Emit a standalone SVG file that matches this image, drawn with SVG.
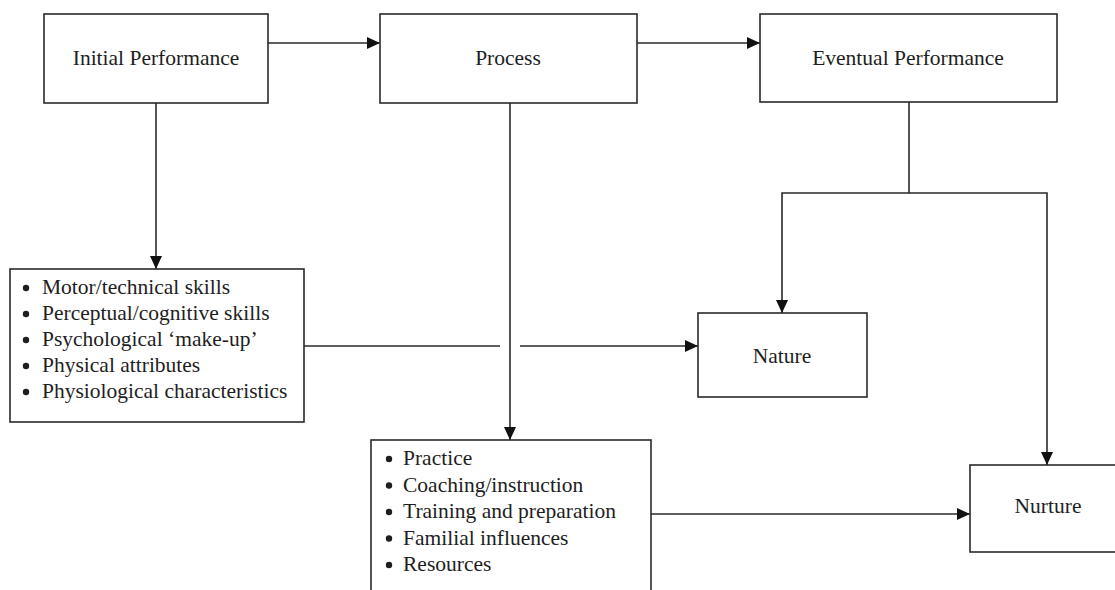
<svg xmlns="http://www.w3.org/2000/svg" width="1115" height="590" viewBox="0 0 1115 590">
  <style>
    .box { fill: #ffffff; stroke: #2a2a2a; stroke-width: 1.6; }
    .lbl { font-family: "Liberation Serif", "Times New Roman", serif; font-size: 21.5px; fill: #1e1e1e; }
    .mid { text-anchor: middle; }
    .dot { fill: #1e1e1e; }
    .link { fill: none; stroke: #2a2a2a; stroke-width: 1.6; }
  </style>
  <defs>
    <marker id="arrow" markerUnits="userSpaceOnUse" markerWidth="14" markerHeight="14" refX="13" refY="7" orient="auto">
      <path d="M0,1 L13,7 L0,13 z" fill="#111"/>
    </marker>
  </defs>
  <rect width="1115" height="590" fill="#ffffff"/>

  <!-- connectors -->
  <g id="connectors">
    <line class="link" x1="268" y1="43" x2="380" y2="43" marker-end="url(#arrow)"/>
    <line class="link" x1="637" y1="43" x2="760" y2="43" marker-end="url(#arrow)"/>
    <line class="link" x1="156" y1="103" x2="156" y2="269" marker-end="url(#arrow)"/>
    <line class="link" x1="510" y1="103" x2="510" y2="440" marker-end="url(#arrow)"/>
    <polyline class="link" points="909,102 909,193 782,193 782,313" marker-end="url(#arrow)"/>
    <polyline class="link" points="909,193 1047,193 1047,465" marker-end="url(#arrow)"/>
    <!-- broken where it crosses the Process line -->
    <line class="link" x1="304" y1="346" x2="500" y2="346"/>
    <line class="link" x1="520" y1="346" x2="698" y2="346" marker-end="url(#arrow)"/>
    <line class="link" x1="651" y1="514" x2="970" y2="514" marker-end="url(#arrow)"/>
  </g>

  <g id="initial-performance">
    <rect class="box" x="44" y="14" width="224" height="89"/>
    <text class="lbl mid" x="156" y="65">Initial Performance</text>
  </g>

  <g id="process">
    <rect class="box" x="380" y="14" width="257" height="89"/>
    <text class="lbl mid" x="508" y="65">Process</text>
  </g>

  <g id="eventual-performance">
    <rect class="box" x="760" y="14" width="297" height="88"/>
    <text class="lbl mid" x="908" y="65">Eventual Performance</text>
  </g>

  <g id="attributes">
    <rect class="box" x="10" y="269" width="294" height="153"/>
    <circle class="dot" cx="26" cy="288" r="3.2"/>
    <circle class="dot" cx="26" cy="314" r="3.2"/>
    <circle class="dot" cx="26" cy="340" r="3.2"/>
    <circle class="dot" cx="26" cy="366" r="3.2"/>
    <circle class="dot" cx="26" cy="392" r="3.2"/>
    <text class="lbl" x="42" y="294">Motor/technical skills</text>
    <text class="lbl" x="42" y="320">Perceptual/cognitive skills</text>
    <text class="lbl" x="42" y="346">Psychological ‘make-up’</text>
    <text class="lbl" x="42" y="372">Physical attributes</text>
    <text class="lbl" x="42" y="398">Physiological characteristics</text>
  </g>

  <g id="influences">
    <rect class="box" x="371" y="440" width="280" height="170"/>
    <circle class="dot" cx="389" cy="459" r="3.2"/>
    <circle class="dot" cx="389" cy="485.5" r="3.2"/>
    <circle class="dot" cx="389" cy="512" r="3.2"/>
    <circle class="dot" cx="389" cy="538.5" r="3.2"/>
    <circle class="dot" cx="389" cy="565" r="3.2"/>
    <text class="lbl" x="403" y="465">Practice</text>
    <text class="lbl" x="403" y="491.5">Coaching/instruction</text>
    <text class="lbl" x="403" y="518">Training and preparation</text>
    <text class="lbl" x="403" y="544.5">Familial influences</text>
    <text class="lbl" x="403" y="571">Resources</text>
  </g>

  <g id="nature">
    <rect class="box" x="698" y="313" width="169" height="84"/>
    <text class="lbl mid" x="782" y="363">Nature</text>
  </g>

  <g id="nurture">
    <rect class="box" x="970" y="465" width="160" height="87"/>
    <text class="lbl mid" x="1048" y="513">Nurture</text>
  </g>
</svg>
